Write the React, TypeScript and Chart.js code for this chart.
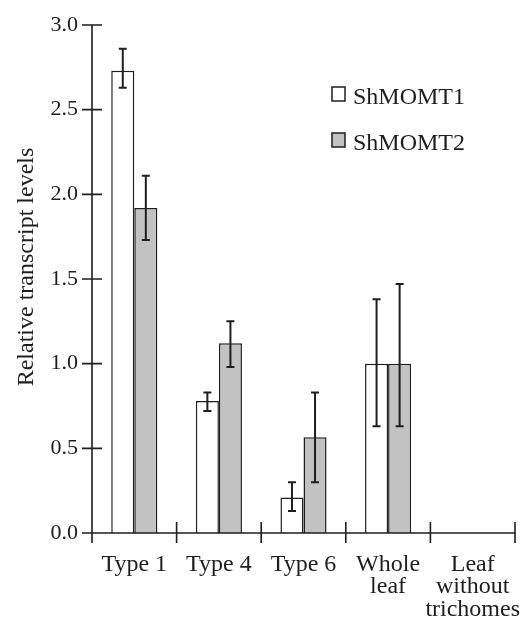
import React, { useEffect, useRef } from "react";
import { Chart, registerables } from "chart.js";

Chart.register(...registerables);

// ---------- data ----------
const categories: string[][] = [
  ["Type 1"],
  ["Type 4"],
  ["Type 6"],
  ["Whole", "leaf"],
  ["Leaf", "without", "trichomes"],
];
const seriesNames = ["ShMOMT1", "ShMOMT2"];
const momt1 = [2.73, 0.78, 0.21, 1.0, null];
const momt1Upper = [2.86, 0.83, 0.3, 1.38, null];
const momt1Lower = [2.63, 0.72, 0.13, 0.63, null];
const momt2 = [1.92, 1.12, 0.565, 1.0, null];
const momt2Upper = [2.11, 1.25, 0.83, 1.47, null];
const momt2Lower = [1.73, 0.98, 0.3, 0.63, null];
const yTitle = "Relative transcript levels";
const yMin = 0;
const yMax = 3;
const yStep = 0.5;

const FONT = "'Liberation Serif', 'Times New Roman', Times, serif";
const INK = "#1e1e1e";
const GRAY = "#c2c2c2";

const errors = [
  [momt1Lower, momt1Upper],
  [momt2Lower, momt2Upper],
];

const axesPlugin = {
  id: "crossAxes",
  afterDatasetsDraw(chart: any) {
    const { ctx, chartArea } = chart;
    const x = chart.scales.x;
    const y = chart.scales.y;
    const left = chartArea.left;
    const right = chartArea.right;
    const y0 = y.getPixelForValue(yMin);
    const yTop = y.getPixelForValue(yMax);
    ctx.save();
    ctx.strokeStyle = INK;
    ctx.lineWidth = 1.6;
    ctx.beginPath();
    // y axis
    ctx.moveTo(left, yTop);
    ctx.lineTo(left, y0 + 10);
    // x axis
    ctx.moveTo(left - 10, y0);
    ctx.lineTo(right, y0);
    // y ticks
    y.ticks.forEach((t: any) => {
      const py = y.getPixelForValue(t.value);
      ctx.moveTo(left - 10, py);
      ctx.lineTo(left + 10, py);
    });
    // x dividers at category boundaries
    const n = categories.length;
    for (let i = 0; i <= n; i++) {
      let px: number;
      if (i === 0) px = left;
      else if (i === n) px = right;
      else px = (x.getPixelForValue(i - 1) + x.getPixelForValue(i)) / 2;
      ctx.moveTo(px, y0 - 11);
      ctx.lineTo(px, y0 + 10);
    }
    ctx.stroke();
    ctx.restore();

    // error bars
    ctx.save();
    ctx.strokeStyle = INK;
    ctx.lineWidth = 2;
    chart.data.datasets.forEach((_ds: any, di: number) => {
      const meta = chart.getDatasetMeta(di);
      const [lo, up] = errors[di];
      meta.data.forEach((bar: any, i: number) => {
        if (up[i] == null || lo[i] == null) return;
        const bx = bar.x;
        const yu = y.getPixelForValue(up[i]);
        const yl = y.getPixelForValue(lo[i]);
        ctx.beginPath();
        ctx.moveTo(bx, yu);
        ctx.lineTo(bx, yl);
        ctx.moveTo(bx - 4, yu);
        ctx.lineTo(bx + 4, yu);
        ctx.moveTo(bx - 4, yl);
        ctx.lineTo(bx + 4, yl);
        ctx.stroke();
      });
    });
    ctx.restore();
  },
  afterDraw(chart: any) {
    const { ctx } = chart;
    // y title
    ctx.save();
    ctx.fillStyle = INK;
    ctx.font = `24px ${FONT}`;
    ctx.textAlign = "center";
    ctx.textBaseline = "alphabetic";
    ctx.translate(33, 267);
    ctx.rotate(-Math.PI / 2);
    ctx.fillText(yTitle, 0, 0);
    ctx.restore();

    // legend
    ctx.save();
    ctx.font = `24px ${FONT}`;
    ctx.textAlign = "left";
    ctx.textBaseline = "alphabetic";
    chart.data.datasets.forEach((ds: any, i: number) => {
      const top = 87 + i * 46;
      ctx.fillStyle = ds.backgroundColor;
      ctx.fillRect(332, top, 13, 14);
      ctx.strokeStyle = INK;
      ctx.lineWidth = 1.5;
      ctx.strokeRect(332, top, 13, 14);
      ctx.fillStyle = INK;
      ctx.fillText(ds.label, 353, top + 17);
    });
    ctx.restore();
  },
};

export default function App() {
  const ref = useRef<HTMLCanvasElement | null>(null);
  useEffect(() => {
    if (!ref.current) return;
    const chart = new Chart(ref.current, {
      type: "bar",
      data: {
        labels: categories as any,
        datasets: [
          {
            label: seriesNames[0],
            data: momt1 as any,
            backgroundColor: "#ffffff",
            borderColor: INK,
            borderWidth: 1.5,
          },
          {
            label: seriesNames[1],
            data: momt2 as any,
            backgroundColor: GRAY,
            borderColor: INK,
            borderWidth: 1.5,
          },
        ],
      },
      options: {
        responsive: false,
        animation: false,
        devicePixelRatio: 1,
        layout: { padding: { top: 25, right: 9, bottom: 0, left: 0 } },
        datasets: {
          bar: { categoryPercentage: 0.545, barPercentage: 1.0 },
        },
        plugins: {
          legend: { display: false },
          tooltip: { enabled: false },
        },
        scales: {
          x: {
            offset: true,
            grid: { display: false, drawTicks: false },
            border: { display: false },
            ticks: {
              color: INK,
              padding: 20,
              maxRotation: 0,
              autoSkip: false,
              font: { family: FONT, size: 24, lineHeight: 0.94 },
            },
            afterFit: (s: any) => {
              s.height = 86;
              s.paddingLeft = 0;
              s.paddingRight = 0;
            },
          },
          y: {
            min: yMin,
            max: yMax,
            grid: { display: false, drawTicks: false },
            border: { display: false },
            ticks: {
              stepSize: yStep,
              color: INK,
              padding: 14,
              font: { family: FONT, size: 22 },
              callback: (v: any) => Number(v).toFixed(1),
            },
            afterFit: (s: any) => {
              s.width = 92;
              s.paddingTop = 0;
              s.paddingBottom = 0;
            },
          },
        },
      },
      plugins: [axesPlugin],
    });
    return () => chart.destroy();
  }, []);
  return (
    <div style={{ position: "fixed", left: 0, top: 0, width: 524, height: 619, background: "#fff" }}>
      <canvas ref={ref} width={524} height={619} style={{ display: "block" }} />
    </div>
  );
}
